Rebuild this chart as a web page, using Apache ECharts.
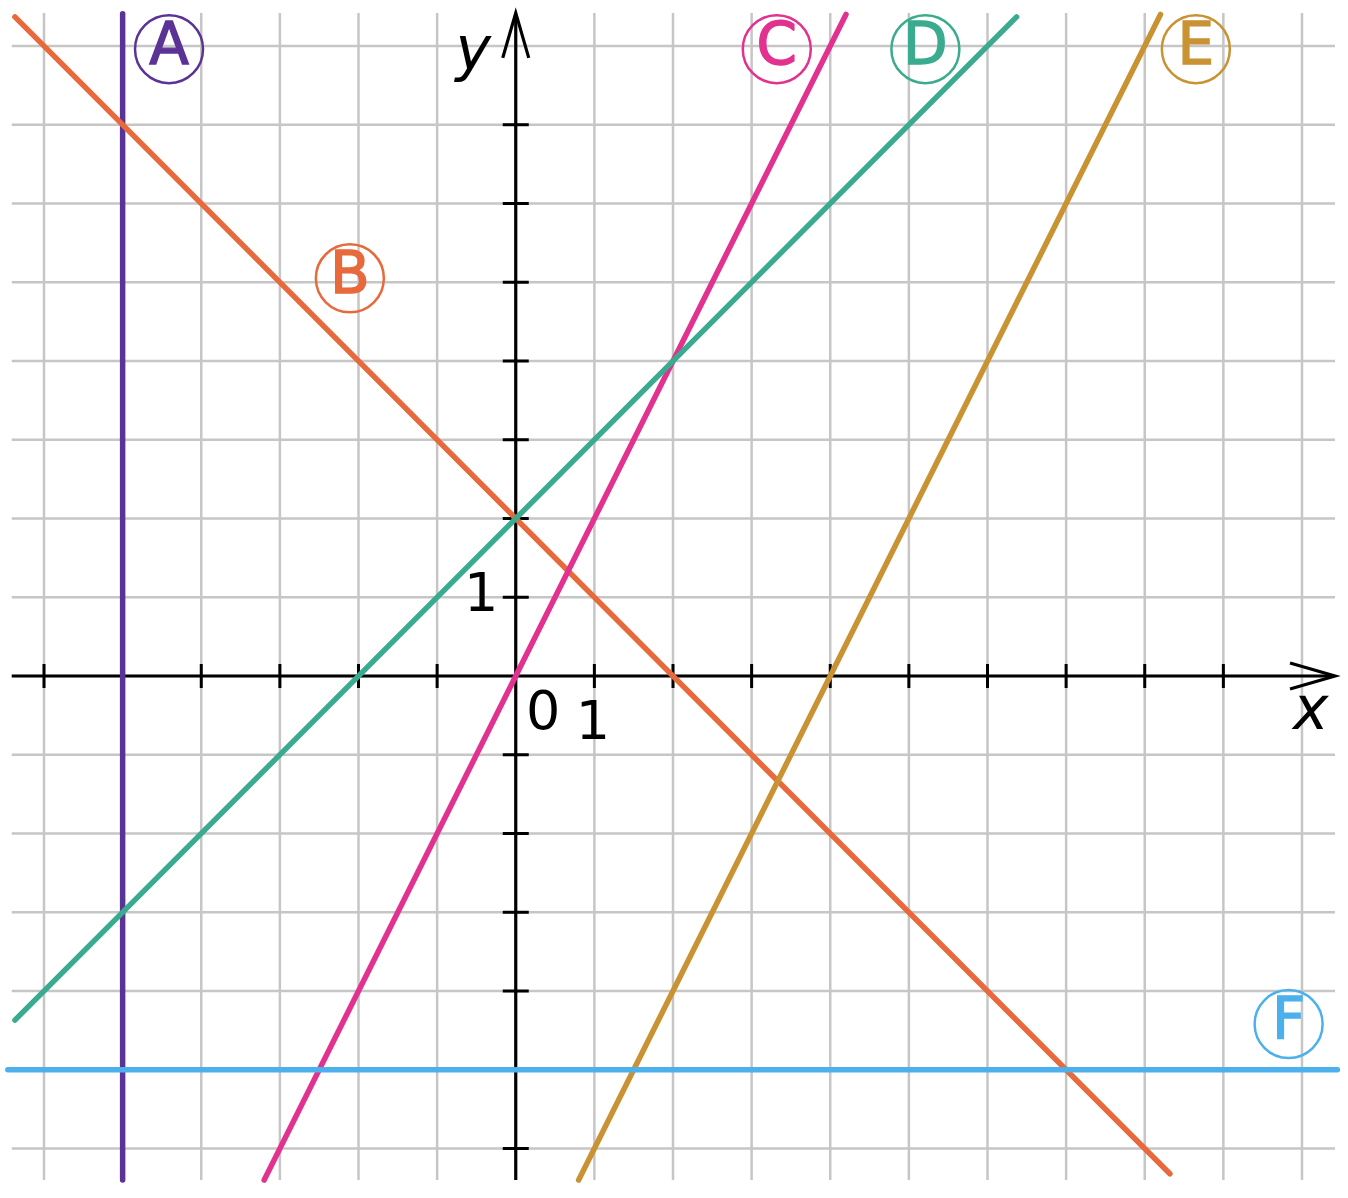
<!DOCTYPE html>
<html>
<head>
<meta charset="utf-8">
<script src="https://cdn.jsdelivr.net/npm/echarts@6/dist/echarts.min.js"></script>
<style>
html,body{margin:0;padding:0;background:#fff;}
#chart{width:1348px;height:1198px;}
</style>
</head>
<body>
<div id="chart"></div>
<script>
// ---- data ----
const gridXs = [-6,-5,-4,-3,-2,-1,0,1,2,3,4,5,6,7,8,9,10];
const gridYs = [-6,-5,-4,-3,-2,-1,0,1,2,3,4,5,6,7,8];
const gridXExtent = [-6.41, 10.42];
const gridYExtent = [-6.4, 8.42];
const xAxisTicks = [-6,-5,-4,-3,-2,-1,1,2,3,4,5,6,7,8,9];
const yAxisTicks = [-6,-5,-4,-3,-2,-1,1,2,3,4,5,6,7];
const lineA = [[-5, -6.4], [-5, 8.41]];            // x = -5
const lineB = [[-6.37, 8.37], [8.32, -6.32]];      // y = -x + 2
const lineC = [[-3.2, -6.4], [4.2, 8.4]];          // y = 2x
const lineD = [[-6.37, -4.37], [6.37, 8.37]];      // y = x + 2
const lineE = [[0.8, -6.4], [8.2, 8.4]];           // y = 2x - 8
const lineF = [[-6.46, -5], [10.45, -5]];          // y = -5
const lineNames = ['A','B','C','D','E','F'];
const labelPos = [[-4.41, 7.96], [-2.11, 5.05], [3.32, 7.96], [5.21, 7.96], [8.65, 7.96], [9.83, -4.42]];
const tickLabels = [{t:'0', p:[0.35,-0.50]}, {t:'1', p:[0.98,-0.62]}, {t:'1', p:[-0.44,1.0]}];
const axisNames = [{t:'x', p:[10.11,-0.48]}, {t:'y', p:[-0.54,7.89]}];

const colors = ['#5b3296','#e7693c','#e2318f','#3aab8e','#c99232','#4cb0ec'];
const lines = [lineA, lineB, lineC, lineD, lineE, lineF];

const chart = echarts.init(document.getElementById('chart'));

function gridRender(params, api) {
  const v = api.value(0), dir = api.value(1);
  let p1, p2;
  if (dir === 0) { p1 = api.coord([v, gridYExtent[0]]); p2 = api.coord([v, gridYExtent[1]]); }
  else { p1 = api.coord([gridXExtent[0], v]); p2 = api.coord([gridXExtent[1], v]); }
  return {type:'line', shape:{x1:p1[0],y1:p1[1],x2:p2[0],y2:p2[1]}, style:{stroke:'#c6c6c6', lineWidth:2.5}};
}
function tickRender(params, api) {
  const v = api.value(0), dir = api.value(1);
  if (dir === 0) {
    const p = api.coord([v, 0]);
    return {type:'line', shape:{x1:p[0],y1:p[1]-12,x2:p[0],y2:p[1]+12}, style:{stroke:'#000', lineWidth:3}};
  } else {
    const p = api.coord([0, v]);
    return {type:'line', shape:{x1:p[0]-13,y1:p[1],x2:p[0]+13,y2:p[1]}, style:{stroke:'#000', lineWidth:3}};
  }
}
function axisRender(params, api) {
  const dir = api.value(0);
  if (dir === 0) {
    const a = api.coord([gridXExtent[0], 0]), b = api.coord([gridXExtent[1], 0]);
    return {type:'group', children:[
      {type:'line', shape:{x1:a[0],y1:a[1],x2:b[0]-2,y2:b[1]}, style:{stroke:'#000', lineWidth:3.2}},
      {type:'polyline', shape:{points:[[b[0]-45,b[1]-13],[b[0],b[1]],[b[0]-45,b[1]+13]]}, style:{stroke:'#000', lineWidth:3.2, fill:null, lineJoin:'miter'}}
    ]};
  } else {
    const a = api.coord([0, gridYExtent[0]]), b = api.coord([0, gridYExtent[1]]);
    return {type:'group', children:[
      {type:'line', shape:{x1:a[0],y1:a[1],x2:b[0],y2:b[1]+2}, style:{stroke:'#000', lineWidth:3.2}},
      {type:'polyline', shape:{points:[[b[0]-13,b[1]+45],[b[0],b[1]],[b[0]+13,b[1]+45]]}, style:{stroke:'#000', lineWidth:3.2, fill:null, lineJoin:'miter'}}
    ]};
  }
}

const gridData = gridXs.map(v => [v, 0]).concat(gridYs.map(v => [v, 1]));
const tickData = xAxisTicks.map(v => [v, 0]).concat(yAxisTicks.map(v => [v, 1]));

const series = [
  {type:'custom', renderItem:gridRender, data:gridData, encode:{x:0}, silent:true, z:1},
  {type:'custom', renderItem:axisRender, data:[[0],[1]], encode:{x:0}, silent:true, z:2},
  {type:'custom', renderItem:tickRender, data:tickData, encode:{x:0}, silent:true, z:2}
];
lines.forEach((ln, i) => {
  series.push({type:'line', data:ln, showSymbol:false, symbol:'none', silent:true, z:3,
    lineStyle:{color:colors[i], width:5.5, cap:'round'}});
});
series.push({
  type:'scatter', z:4, silent:true, symbol:'circle', symbolSize:68,
  itemStyle:{opacity:1},
  data: labelPos.map((p, i) => ({value:p, name:lineNames[i],
    itemStyle:{color:'rgba(255,255,255,0)', borderColor:colors[i], borderWidth:2.5, opacity:1},
    label:{color:colors[i], textBorderColor:colors[i], textBorderWidth:1.4}})),
  label:{show:true, position:'inside', formatter: p => p.name, fontFamily:'DejaVu Sans', fontSize:58}
});
series.push({
  type:'scatter', z:4, silent:true, symbolSize:0, itemStyle:{opacity:1},
  data: tickLabels.map(d => ({value:d.p, name:d.t})),
  label:{show:true, position:'inside', formatter: p => p.name, fontFamily:'DejaVu Sans', fontSize:54, color:'#000'}
});
series.push({
  type:'scatter', z:4, silent:true, symbolSize:0, itemStyle:{opacity:1},
  data: axisNames.map(d => ({value:d.p, name:d.t})),
  label:{show:true, position:'inside', formatter: p => p.name, fontFamily:'DejaVu Sans', fontStyle:'italic', fontSize:60, color:'#000'}
});

chart.setOption({
  animation:false,
  backgroundColor:'#fff',
  grid:{left:4.7, top:6.6, width:1336.6, height:1181.3, containLabel:false},
  xAxis:{type:'value', min:-6.5, max:10.5, show:false},
  yAxis:{type:'value', min:-6.5, max:8.5, show:false},
  series: series
});
</script>
</body>
</html>
